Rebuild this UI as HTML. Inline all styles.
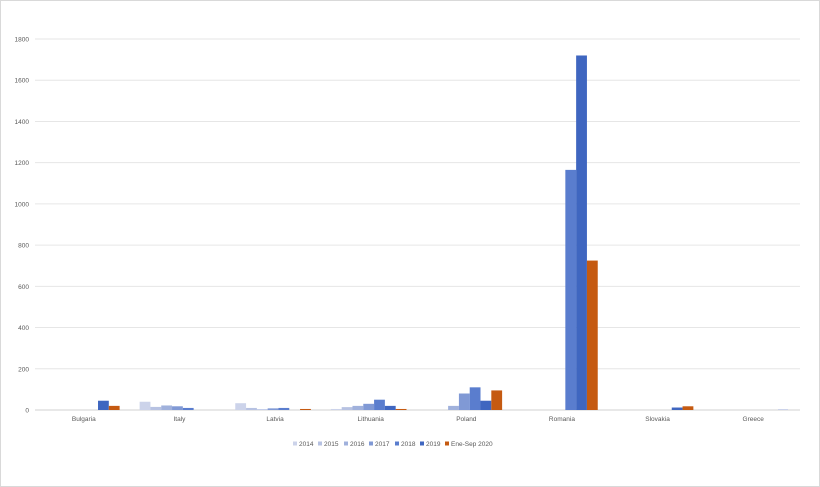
<!DOCTYPE html>
<html><head><meta charset="utf-8"><style>
body{margin:0;background:#fff}
svg{display:block;font-family:"Liberation Sans",sans-serif}
</style></head><body>
<svg id="s" width="820" height="487" viewBox="0 0 820 487" xmlns="http://www.w3.org/2000/svg">
<rect x="0.5" y="0.5" width="819" height="486" fill="#fff" stroke="#d9d9d9"/>
<g id="g"></g>
</svg>
<script>
var g=document.getElementById('g'),h='';
var x0=35,x1=800,y0=410,k=(410-39)/1800;
for(var v=0;v<=1800;v+=200){var y=y0-v*k;
 h+='<line x1="'+x0+'" x2="'+x1+'" y1="'+y+'" y2="'+y+'" stroke="'+(v?'#e6e6e6':'#d0d0d0')+'" stroke-width="1"/>';
 h+='<text x="29" y="'+(y+2.5)+'" font-size="6.5" fill="#595959" text-anchor="end">'+v+'</text>';}
var cats=["Bulgaria","Italy","Latvia","Lithuania","Poland","Romania","Slovakia","Greece"];
var cols=["#ccd3ea","#b7c2e2","#a0b1dc","#8099d5","#5a7dce","#3f66c0","#c55a11"];
var data=[[0,0,0,0,0,45,20],[40,15,22,18,10,0,0],[33,10,3,8,10,0,5],[5,14,20,30,50,20,5],[0,0,20,80,110,45,95],[0,0,0,0,1165,1720,725],[0,0,0,0,0,12,18],[0,0,0,0,0,0,0]];
var cw=(x1-x0)/8,bw=10.8;
for(var i=0;i<8;i++){var c=x0+cw*(i+0.5),s=c-bw*3.5-1;
 for(var j=0;j<7;j++){var v=data[i][j];if(!v)continue;var hh=v*k;
  h+='<rect x="'+(s+j*bw)+'" y="'+(y0-hh)+'" width="'+bw+'" height="'+hh+'" fill="'+cols[j]+'"/>';}
 h+='<text x="'+(c+1)+'" y="421" font-size="6.5" fill="#595959" text-anchor="middle">'+cats[i]+'</text>';}
h+='<rect x="778" y="409" width="10" height="1" fill="#ccd3ea"/>';
var lab=["2014","2015","2016","2017","2018","2019","Ene-Sep 2020"],lx=[293,318,344,369,395,420,445];
for(var j=0;j<7;j++){h+='<rect x="'+lx[j]+'" y="441.5" width="4" height="4" fill="'+cols[j]+'"/><text x="'+(lx[j]+6)+'" y="446" font-size="6.5" fill="#595959">'+lab[j]+'</text>';}
g.innerHTML=h;
</script>
</body></html>
